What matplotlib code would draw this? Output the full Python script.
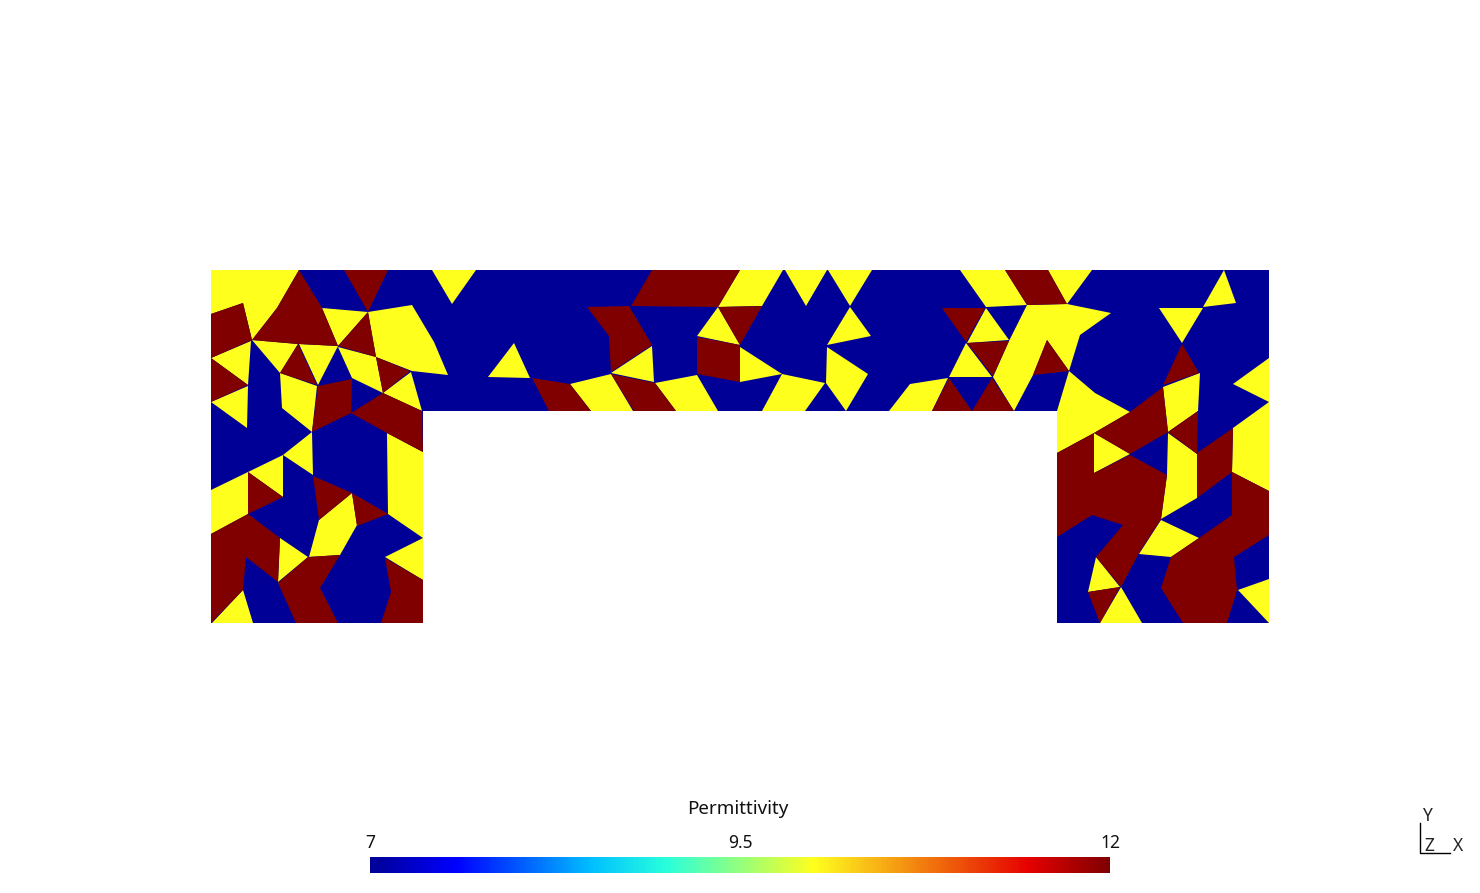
# -*- coding: utf-8 -*-
# Permittivity map on a U shaped mesh, cells
import matplotlib
matplotlib.use('Agg')
import matplotlib.pyplot as plt
from matplotlib.collections import PolyCollection
from matplotlib.colors import LinearSegmentedColormap, Normalize
from matplotlib.cm import ScalarMappable

plt.rcParams['font.family'] = ['Noto Sans', 'DejaVu Sans']

# Values of the three materials
eps_low = 7
eps_mid = 10
eps_high = 12

# Colorbar
cbar_label = 'Permittivity'
cbar_ticks = [7, 9.5, 12]
cbar_ticklabels = ['7', '9.5', '12']

# Outline of the device, all of it at eps_low
outline = [[(211, 270), (1269, 270), (1269, 623), (1057, 623), (1057, 411),
            (423, 411), (423, 623), (211, 623)]]

# Cells at eps_mid
yellow_cells = [
    [(211, 270), (299, 270), (277, 308), (252, 340), (243, 303), (211, 314)],
    [(322, 308), (368, 312), (338, 346)],
    [(368, 312), (412, 305), (434, 342), (448, 375), (412, 371), (376, 357)],
    [(338, 347), (376, 357), (383, 393), (352, 378)],
    [(383, 393), (411, 372), (422, 411)],
    [(387, 433), (423, 452), (423, 538), (388, 514)],
    [(252, 340), (298, 344), (280, 373)],
    [(299, 344), (338, 346), (318, 385)],
    [(280, 373), (317, 386), (312, 432), (282, 408)],
    [(211, 358), (251, 341), (248, 385)],
    [(211, 402), (248, 386), (247, 428)],
    [(312, 432), (313, 475), (283, 455)],
    [(248, 472), (283, 455), (283, 497)],
    [(211, 490), (248, 472), (248, 514), (211, 534)],
    [(243, 590), (253, 623), (212, 623)],
    [(280, 538), (308, 557), (278, 582)],
    [(319, 520), (352, 493), (357, 525), (340, 555), (309, 557)],
    [(385, 557), (423, 538), (423, 580)],
    [(432, 270), (476, 270), (452, 304)],
    [(488, 377), (514, 343), (530, 378)],
    [(570, 384), (611, 374), (633, 411), (591, 411)],
    [(611, 373), (652, 346), (654, 382)],
    [(655, 383), (697, 375), (718, 411), (676, 411)],
    [(718, 307), (740, 345), (697, 336)],
    [(740, 270), (783, 270), (762, 306), (718, 307)],
    [(785, 270), (827, 270), (806, 306)],
    [(828, 270), (872, 270), (850, 306)],
    [(850, 307), (871, 336), (827, 345)],
    [(827, 347), (868, 374), (846, 411), (826, 383)],
    [(740, 347), (782, 374), (740, 382)],
    [(782, 374), (825, 383), (805, 411), (762, 411)],
    [(910, 384), (948, 378), (932, 411), (889, 411)],
    [(966, 343), (992, 377), (949, 377)],
    [(986, 308), (1009, 340), (967, 343)],
    [(960, 270), (1005, 270), (1027, 305), (986, 307)],
    [(1048, 270), (1092, 270), (1067, 304)],
    [(1027, 305), (1067, 304), (1111, 313), (1080, 335), (1069, 371),
     (1047, 340), (1033, 375), (1014, 411), (993, 377), (1009, 341)],
    [(1069, 371), (1095, 393), (1130, 412), (1094, 433), (1057, 453), (1057, 411)],
    [(1159, 308), (1203, 308), (1182, 343)],
    [(1203, 307), (1224, 270), (1236, 303)],
    [(1163, 387), (1200, 373), (1198, 411), (1168, 432)],
    [(1094, 433), (1130, 454), (1094, 473)],
    [(1168, 433), (1197, 454), (1197, 498), (1161, 519), (1167, 475)],
    [(1233, 428), (1269, 402), (1269, 491), (1232, 472)],
    [(1269, 358), (1233, 384), (1269, 402)],
    [(1161, 520), (1199, 538), (1171, 557), (1139, 554)],
    [(1096, 557), (1120, 587), (1088, 592)],
    [(1121, 587), (1142, 623), (1100, 623)],
    [(1238, 590), (1269, 579), (1269, 623)],
]

# Cells at eps_high
maroon_cells = [
    [(211, 314), (243, 303), (252, 340), (211, 358)],
    [(299, 270), (322, 308), (338, 346), (298, 344), (252, 340), (277, 308)],
    [(344, 270), (388, 270), (368, 312)],
    [(368, 312), (376, 357), (338, 346)],
    [(376, 357), (410, 371), (383, 393)],
    [(318, 386), (352, 379), (351, 413), (312, 432)],
    [(383, 393), (422, 411), (423, 452), (387, 433), (351, 413)],
    [(280, 373), (298, 344), (317, 385)],
    [(211, 358), (248, 385), (211, 402)],
    [(248, 472), (283, 497), (248, 514)],
    [(211, 534), (248, 514), (280, 538), (278, 582), (246, 557), (243, 590), (211, 623)],
    [(278, 583), (308, 557), (340, 555), (320, 588), (338, 623), (296, 623)],
    [(313, 476), (352, 493), (319, 520)],
    [(352, 493), (388, 514), (357, 526)],
    [(385, 558), (423, 580), (423, 623), (381, 623), (391, 592)],
    [(532, 378), (570, 384), (591, 411), (549, 411)],
    [(611, 374), (655, 383), (676, 411), (634, 411)],
    [(587, 307), (629, 306), (652, 345), (611, 372), (609, 336)],
    [(652, 270), (740, 270), (718, 307), (631, 306)],
    [(697, 337), (740, 345), (740, 382), (697, 374)],
    [(718, 307), (762, 306), (740, 345)],
    [(949, 378), (972, 411), (932, 411)],
    [(992, 378), (1014, 411), (972, 411)],
    [(967, 343), (1009, 341), (993, 376)],
    [(942, 308), (985, 308), (966, 342)],
    [(1005, 270), (1048, 270), (1067, 304), (1027, 305)],
    [(1047, 340), (1069, 371), (1033, 375)],
    [(1182, 344), (1199, 373), (1163, 385)],
    [(1130, 412), (1163, 387), (1168, 432), (1130, 454), (1094, 433)],
    [(1094, 433), (1094, 473), (1130, 455), (1167, 475), (1161, 519), (1139, 553),
     (1121, 587), (1096, 557), (1123, 525), (1092, 515), (1057, 537), (1057, 453)],
    [(1168, 432), (1198, 411), (1197, 454)],
    [(1197, 453), (1233, 428), (1232, 472), (1197, 498)],
    [(1232, 472), (1269, 491), (1269, 535), (1234, 557), (1237, 590), (1227, 623),
     (1183, 623), (1161, 588), (1171, 557), (1199, 538), (1232, 515)],
    [(1088, 592), (1120, 587), (1100, 623)],
]

# Colormap taken from the bar, it is a jet with the yellow a bit to the left
cmap = LinearSegmentedColormap.from_list('perm', [
    (0.0, '#000096'), (0.115, '#0000ff'), (0.30, '#00c0ff'), (0.40, '#28ffdc'),
    (0.6, '#ffff1e'), (0.89, '#e60000'), (1.0, '#800000')])
norm = Normalize(eps_low, eps_high)

fig = plt.figure(figsize=(14.8, 8.93), dpi=100)
ax = fig.add_axes([0, 0, 1, 1])
ax.set_xlim(0, 1480)
ax.set_ylim(893, 0)
ax.axis('off')

# First the whole outline, then the other cells on top
cells = outline + yellow_cells + maroon_cells
values = [eps_low] * len(outline) + [eps_mid] * len(yellow_cells) + [eps_high] * len(maroon_cells)
mesh = PolyCollection(cells, array=values, cmap=cmap, norm=norm, edgecolors='none', antialiased=True)
ax.add_collection(mesh)

# Colorbar with the labels above it
cax = fig.add_axes([370 / 1480, 1 - 873 / 893, 740 / 1480, 16 / 893])
cb = fig.colorbar(ScalarMappable(norm=norm, cmap=cmap), cax=cax, orientation='horizontal')
cb.set_ticks(cbar_ticks, labels=cbar_ticklabels)
cb.outline.set_visible(False)
cax.xaxis.set_ticks_position('top')
cax.tick_params(length=0, pad=3.5, labelsize=12.5, colors='#111111')
ax.text(738, 809, cbar_label, ha='center', va='center', fontsize=13.5, color='#111111')

# Axes triad in the corner
ax.plot([1420, 1420, 1450], [823, 853, 853], color='black', lw=1)
ax.text(1427, 816, 'Y', ha='center', va='center', fontsize=12.5, color='#222222')
ax.text(1429, 846, 'Z', ha='center', va='center', fontsize=12.5, color='#222222')
ax.text(1458, 846, 'X', ha='center', va='center', fontsize=12.5, color='#222222')

plt.savefig('out.png', dpi=100)
